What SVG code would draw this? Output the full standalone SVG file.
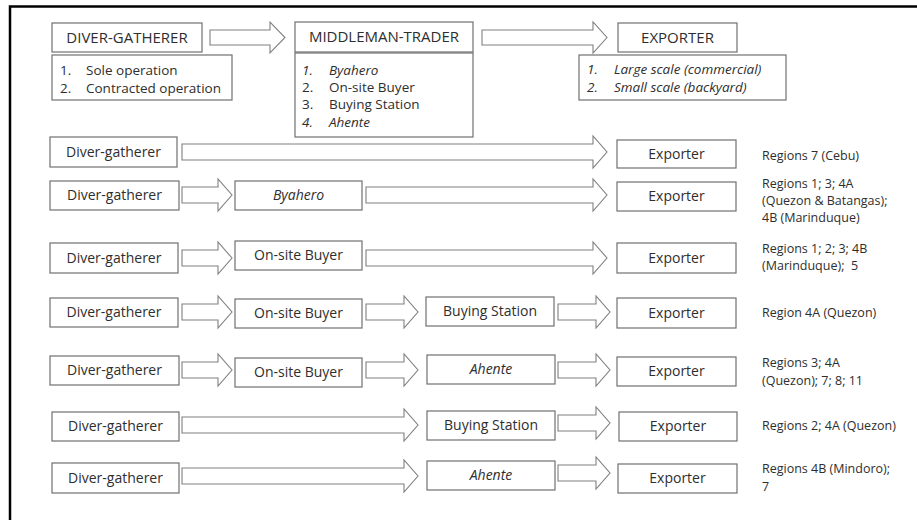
<svg xmlns="http://www.w3.org/2000/svg" width="917" height="520" viewBox="0 0 917 520">
<style>
.b{fill:#fff;stroke:#707070;stroke-width:1.2}
.a{fill:#fff;stroke:#808080;stroke-width:1.1}
text{font-family:"Open Sans","Liberation Sans",sans-serif;fill:#2e2e2e}
.t{font-size:14px;text-anchor:middle}
.h{font-size:15px;text-anchor:middle}
.l{font-size:13.5px}
.r{font-size:12.5px}
.i{font-style:italic}
</style>
<rect width="917" height="520" fill="#fff"/>
<path d="M10,520 V6.5 H917" fill="none" stroke="#000" stroke-width="2.5"/>
<g id="hdr-diver"><rect class="b" x="52" y="23" width="150" height="29"/><text class="h" x="127" y="43">DIVER-GATHERER</text></g>
<g id="hdr-diver-list"><rect class="b" x="52" y="55" width="180" height="45"/><text class="l" x="60" y="75">1.</text><text class="l" x="86" y="75">Sole operation</text><text class="l" x="60" y="93">2.</text><text class="l" x="86" y="93">Contracted operation</text></g>
<g id="hdr-middle"><rect class="b" x="295" y="22" width="178" height="30"/><text class="h" x="384" y="42">MIDDLEMAN-TRADER</text></g>
<g id="hdr-middle-list"><rect class="b" x="295" y="53" width="178" height="84"/><text class="l i" x="302" y="75">1.</text><text class="l i" x="329" y="75">Byahero</text><text class="l" x="302" y="92">2.</text><text class="l" x="329" y="92">On-site Buyer</text><text class="l" x="302" y="109">3.</text><text class="l" x="329" y="109">Buying Station</text><text class="l i" x="302" y="127">4.</text><text class="l i" x="329" y="127">Ahente</text></g>
<g id="hdr-exporter"><rect class="b" x="618" y="23" width="119" height="29"/><text class="h" x="677.5" y="43">EXPORTER</text></g>
<g id="hdr-exporter-list"><rect class="b" x="579" y="55" width="207" height="45"/><text class="l i" x="587" y="74">1.</text><text class="l i" x="614" y="74">Large scale (commercial)</text><text class="l i" x="587" y="92">2.</text><text class="l i" x="614" y="92">Small scale (backyard)</text></g>

<g id="connectors">
<polygon class="a" points="210,30 270,30 270,22 285,37.5 270,53 270,45 210,45"/>
<polygon class="a" points="482,30 593,30 593,22 607,37.5 593,53 593,45 482,45"/>
<polygon class="a" points="182,144 593,144 593,136 607,152 593,168 593,160 182,160"/>
<polygon class="a" points="182,187 218,187 218,179 232,195 218,211 218,203 182,203"/>
<polygon class="a" points="366,187 593,187 593,179 607,195 593,211 593,203 366,203"/>
<polygon class="a" points="182,250 218,250 218,242 232,258 218,274 218,266 182,266"/>
<polygon class="a" points="366,250 593,250 593,242 607,258 593,274 593,266 366,266"/>
<polygon class="a" points="182,304 218,304 218,296 232,312 218,328 218,320 182,320"/>
<polygon class="a" points="366,304 404,304 404,296 418,312 404,328 404,320 366,320"/>
<polygon class="a" points="558,304 596,304 596,296 610,312 596,328 596,320 558,320"/>
<polygon class="a" points="182,362 218,362 218,354 232,370 218,386 218,378 182,378"/>
<polygon class="a" points="366,362 404,362 404,354 418,370 404,386 404,378 366,378"/>
<polygon class="a" points="558,362 596,362 596,354 610,370 596,386 596,378 558,378"/>
<polygon class="a" points="182,417 404,417 404,409 418,425 404,441 404,433 182,433"/>
<polygon class="a" points="558,415 596,415 596,407 610,423 596,439 596,431 558,431"/>
<polygon class="a" points="182,468 404,468 404,460 418,476 404,492 404,484 182,484"/>
<polygon class="a" points="558,465 596,465 596,457 610,473 596,489 596,481 558,481"/>
</g>

<g id="r1-diver"><rect class="b" x="50" y="137" width="127" height="30"/><text class="t" x="113.5" y="157">Diver-gatherer</text></g>
<g id="r1-exporter"><rect class="b" x="617" y="140" width="119" height="28"/><text class="t" x="676.5" y="159">Exporter</text></g>
<text class="r" x="762" y="160">Regions 7 (Cebu)</text>

<g id="r2-diver"><rect class="b" x="50" y="181" width="129" height="29"/><text class="t" x="114.5" y="200">Diver-gatherer</text></g>
<g id="r2-byahero"><rect class="b" x="235" y="181" width="127" height="29"/><text class="t i" x="298.5" y="200">Byahero</text></g>
<g id="r2-exporter"><rect class="b" x="617" y="182" width="119" height="29"/><text class="t" x="676.5" y="201">Exporter</text></g>
<text class="r" x="762" y="188">Regions 1; 3; 4A</text>
<text class="r" x="762" y="205">(Quezon &amp; Batangas);</text>
<text class="r" x="762" y="222">4B (Marinduque)</text>

<g id="r3-diver"><rect class="b" x="50" y="243" width="128" height="30"/><text class="t" x="114" y="263">Diver-gatherer</text></g>
<g id="r3-buyer"><rect class="b" x="235" y="241" width="127" height="29"/><text class="t" x="298.5" y="260">On-site Buyer</text></g>
<g id="r3-exporter"><rect class="b" x="617" y="243" width="119" height="30"/><text class="t" x="676.5" y="263">Exporter</text></g>
<text class="r" x="762" y="253">Regions 1; 2; 3; 4B</text>
<text class="r" x="762" y="270" xml:space="preserve">(Marinduque);  5</text>

<g id="r4-diver"><rect class="b" x="50" y="298" width="128" height="29"/><text class="t" x="114" y="317">Diver-gatherer</text></g>
<g id="r4-buyer"><rect class="b" x="235" y="299" width="127" height="29"/><text class="t" x="298.5" y="318">On-site Buyer</text></g>
<g id="r4-station"><rect class="b" x="426" y="297" width="128" height="29"/><text class="t" x="490" y="316">Buying Station</text></g>
<g id="r4-exporter"><rect class="b" x="617" y="298" width="119" height="30"/><text class="t" x="676.5" y="318">Exporter</text></g>
<text class="r" x="762" y="317">Region 4A (Quezon)</text>

<g id="r5-diver"><rect class="b" x="50" y="356" width="129" height="29"/><text class="t" x="114.5" y="375">Diver-gatherer</text></g>
<g id="r5-buyer"><rect class="b" x="235" y="358" width="127" height="29"/><text class="t" x="298.5" y="377">On-site Buyer</text></g>
<g id="r5-ahente"><rect class="b" x="427" y="355" width="128" height="29"/><text class="t i" x="491" y="374">Ahente</text></g>
<g id="r5-exporter"><rect class="b" x="617" y="357" width="119" height="29"/><text class="t" x="676.5" y="376">Exporter</text></g>
<text class="r" x="762" y="367">Regions 3; 4A</text>
<text class="r" x="762" y="385">(Quezon); 7; 8; 11</text>

<g id="r6-diver"><rect class="b" x="52" y="412" width="127" height="29"/><text class="t" x="115.5" y="431">Diver-gatherer</text></g>
<g id="r6-station"><rect class="b" x="427" y="411" width="128" height="29"/><text class="t" x="491" y="430">Buying Station</text></g>
<g id="r6-exporter"><rect class="b" x="619" y="412" width="118" height="29"/><text class="t" x="678" y="431">Exporter</text></g>
<text class="r" x="762" y="430">Regions 2; 4A (Quezon)</text>

<g id="r7-diver"><rect class="b" x="52" y="463" width="127" height="30"/><text class="t" x="115.5" y="483">Diver-gatherer</text></g>
<g id="r7-ahente"><rect class="b" x="427" y="461" width="128" height="29"/><text class="t i" x="491" y="480">Ahente</text></g>
<g id="r7-exporter"><rect class="b" x="618" y="464" width="119" height="29"/><text class="t" x="677.5" y="483">Exporter</text></g>
<text class="r" x="762" y="473">Regions 4B (Mindoro);</text>
<text class="r" x="762" y="491">7</text>
</svg>
